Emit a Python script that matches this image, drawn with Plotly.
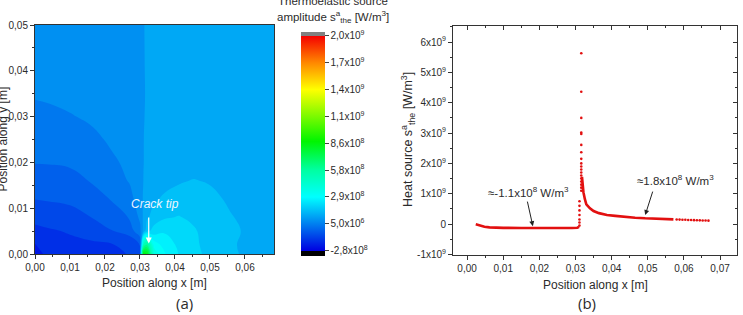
import numpy as np
import plotly.graph_objects as go

# ---------------- (a) thermoelastic source field (values in 1e8 W/m^3) ----------------
GRID_X = [0, 0.004, 0.01, 0.016, 0.022, 0.027, 0.030, 0.031, 0.032, 0.034,
          0.037, 0.041, 0.045, 0.05, 0.056, 0.062, 0.069]
GRID_Y = [0, 0.002, 0.005, 0.008, 0.012, 0.016, 0.02, 0.025, 0.03, 0.035, 0.04, 0.05]
FIELD_1E8 = [
    [-2.30, -1.80, -1.60, -1.58, -1.55, -1.45, -1.30, 9.00, 8.50, 3.80, 2.90, 2.30, 1.95, 1.62, 1.28, 1.15, 1.08],
    [-2.05, -1.75, -1.58, -1.55, -1.50, -1.35, -0.90, 5.00, 6.00, 3.20, 2.60, 2.22, 1.90, 1.58, 1.27, 1.13, 1.06],
    [-1.60, -1.52, -1.43, -1.29, -0.95, -0.69, 0.00, 0.90, 1.60, 2.00, 2.25, 2.10, 1.85, 1.55, 1.30, 1.15, 1.07],
    [-1.33, -1.27, -1.14, -0.93, -0.68, -0.35, 0.25, 0.80, 1.15, 1.45, 1.70, 1.80, 1.68, 1.45, 1.25, 1.12, 1.05],
    [-0.92, -0.88, -0.82, -0.64, -0.35, -0.05, 0.45, 0.75, 0.95, 1.15, 1.32, 1.45, 1.45, 1.32, 1.17, 1.07, 1.02],
    [-0.64, -0.61, -0.55, -0.36, -0.13, 0.19, 0.40, 0.70, 0.85, 0.95, 1.05, 1.17, 1.25, 1.20, 1.08, 1.03, 1.00],
    [-0.37, -0.36, -0.32, -0.19, 0.085, 0.24, 0.45, 0.68, 0.80, 0.88, 0.93, 0.98, 1.02, 1.03, 1.02, 1.00, 0.99],
    [-0.18, -0.16, -0.10, 0.04, 0.22, 0.36, 0.50, 0.68, 0.78, 0.84, 0.90, 0.96, 0.99, 1.00, 1.00, 0.99, 0.98],
    [0.01, 0.03, 0.12, 0.22, 0.33, 0.44, 0.52, 0.66, 0.76, 0.84, 0.91, 0.95, 0.98, 0.99, 0.99, 0.98, 0.97],
    [0.20, 0.24, 0.30, 0.38, 0.44, 0.50, 0.56, 0.64, 0.75, 0.86, 0.92, 0.95, 0.97, 0.98, 0.98, 0.97, 0.96],
    [0.36, 0.38, 0.41, 0.44, 0.47, 0.51, 0.57, 0.65, 0.76, 0.87, 0.92, 0.94, 0.96, 0.97, 0.97, 0.96, 0.95],
    [0.40, 0.42, 0.44, 0.46, 0.48, 0.52, 0.58, 0.66, 0.78, 0.88, 0.92, 0.94, 0.95, 0.96, 0.96, 0.95, 0.94],
]
CBAR_TICKS = [-2.8e8, 5.0e6, 2.9e8, 5.75e8, 8.6e8, 1.145e9, 1.43e9, 1.715e9, 2.0e9]
CBAR_LABELS = ["-2,8x10<sup>8</sup>", "5,0x10<sup>6</sup>", "2,9x10<sup>8</sup>",
               "5,8x10<sup>8</sup>", "8,6x10<sup>8</sup>", "1,1x10<sup>9</sup>",
               "1,4x10<sup>9</sup>", "1,7x10<sup>9</sup>", "2,0x10<sup>9</sup>"]

# ---------------- (b) heat source along crack line (values in 1e9 W/m^3) ----------------
PLATEAU_X = [0.0024, 0.0030, 0.0038, 0.0048, 0.0062, 0.0080, 0.0100, 0.0150, 0.0200,
             0.0250, 0.0290, 0.0305, 0.0310]
PLATEAU_Y = [-0.01, -0.03, -0.06, -0.09, -0.11, -0.12, -0.125, -0.13, -0.135,
             -0.135, -0.13, -0.12, -0.09]
JUMP_X = [0.0311, 0.0311, 0.0311, 0.0311, 0.0311, 0.0311, 0.0311]
JUMP_Y = [-0.05, 0.05, 0.15, 0.30, 0.45, 0.60, 0.75]
SPIKE_X = [0.0316] * 18
SPIKE_Y = [1.10, 1.20, 1.30, 1.40, 1.50, 1.60, 1.70, 1.80, 1.90, 2.00, 2.15, 2.37,
           2.61, 2.97, 3.02, 3.50, 4.36, 5.63]
DECAY_X = [0.0318, 0.0322, 0.0326, 0.0330, 0.0340, 0.0350, 0.0365, 0.0387, 0.0410,
           0.0433, 0.0465, 0.0493, 0.0530, 0.0571]
DECAY_Y = [1.56, 1.05, 0.82, 0.65, 0.52, 0.43, 0.36, 0.30, 0.27, 0.24, 0.21, 0.19,
           0.17, 0.155]
TAIL_X = [0.0580, 0.0588, 0.0596, 0.0604, 0.0612, 0.0620, 0.0628, 0.0636, 0.0644,
          0.0652, 0.0660, 0.0668]
TAIL_Y = [0.150, 0.147, 0.143, 0.140, 0.136, 0.133, 0.129, 0.126, 0.122, 0.119,
          0.115, 0.112]
B_YTICKS = [-1e9, 0, 1e9, 2e9, 3e9, 4e9, 5e9, 6e9]
B_YLABELS = ["-1x10<sup>9</sup>", "0", "1x10<sup>9</sup>", "2x10<sup>9</sup>",
             "3x10<sup>9</sup>", "4x10<sup>9</sup>", "5x10<sup>9</sup>", "6x10<sup>9</sup>"]

W, H = 743, 315
FONT = "Liberation Sans, Arial, sans-serif"
TXT = "#2b2b2b"
RED = "rgb(226,16,16)"

# colour mapping (Origin-like rainbow, black below / grey above)
CS = 5.4e7
START = 6.9e7 - 7 * CS
CMIN = START - CS / 2
CMAX = CMIN + 44 * CS
END = START + 43.01 * CS


def p(v):
    return (v - CMIN) / (CMAX - CMIN)


colorscale = [
    [0.0, "rgb(0,0,0)"], [p(-2.8e8), "rgb(0,0,0)"],
    [p(-2.8e8), "rgb(0,0,225)"],
    [p(2.9e8), "rgb(0,255,255)"],
    [p(5.8e8), "rgb(0,255,160)"],
    [p(8.8e8), "rgb(0,245,0)"],
    [p(1.43e9), "rgb(255,255,0)"],
    [p(1.715e9), "rgb(255,135,0)"],
    [p(2.0e9), "rgb(245,0,0)"],
    [p(2.0e9), "rgb(128,128,128)"], [1.0, "rgb(128,128,128)"],
]

fig = go.Figure()

z = np.array(FIELD_1E8) * 1e8
fig.add_trace(go.Contour(
    x=GRID_X, y=GRID_Y, z=z, colorscale=colorscale, showscale=False,
    autocontour=False,
    contours=dict(start=START, end=END, size=CS, coloring="fill", showlines=False),
    line=dict(width=0, smoothing=1.3), hoverinfo="skip",
    xaxis="x", yaxis="y",
))
# colour bar carrier (drawn outside the visible range)
fig.add_trace(go.Heatmap(
    x=[1, 2], y=[1, 2], z=[[CMIN, CMAX], [CMIN, CMAX]], zmin=CMIN, zmax=CMAX,
    colorscale=colorscale, hoverinfo="skip", xaxis="x", yaxis="y",
    colorbar=dict(
        x=301 / W, xanchor="left", y=1 - 32 / H, yanchor="top",
        len=224, lenmode="pixels", thickness=24, xpad=0, ypad=0,
        outlinewidth=0, tickmode="array", tickvals=CBAR_TICKS, ticktext=CBAR_LABELS,
        ticks="outside", ticklen=4, tickcolor="#444",
        tickfont=dict(family=FONT, size=10, color=TXT),
    ),
))

# (b) traces
fig.add_trace(go.Scatter(x=PLATEAU_X, y=np.array(PLATEAU_Y) * 1e9, mode="lines",
                         line=dict(color=RED, width=2.6), xaxis="x2", yaxis="y2",
                         showlegend=False, hoverinfo="skip"))
fig.add_trace(go.Scatter(x=DECAY_X, y=np.array(DECAY_Y) * 1e9, mode="lines",
                         line=dict(color=RED, width=2.6), xaxis="x2", yaxis="y2",
                         showlegend=False, hoverinfo="skip"))
for xs_, ys_ in ((JUMP_X, JUMP_Y), (SPIKE_X, SPIKE_Y), (TAIL_X, TAIL_Y)):
    fig.add_trace(go.Scatter(x=xs_, y=np.array(ys_) * 1e9, mode="markers",
                             marker=dict(color=RED, size=2.6, line=dict(width=0)),
                             xaxis="x2", yaxis="y2", showlegend=False, hoverinfo="skip"))
fig.add_trace(go.Scatter(x=[None], y=[None], xaxis="x3", yaxis="y3",
                         showlegend=False, hoverinfo="skip"))

axis_common = dict(showgrid=False, zeroline=False, showline=True, linecolor="#333",
                   linewidth=1, ticks="outside", ticklen=4, tickcolor="#333",
                   tickangle=0, automargin=False,
                   tickfont=dict(family=FONT, size=10, color=TXT))

XR_B = [-0.0039, 0.0747]
YR_B = [-1.02e9, 6.53e9]

fig.update_layout(
    width=W, height=H, margin=dict(l=0, r=0, t=0, b=0, autoexpand=False),
    paper_bgcolor="white", plot_bgcolor="white", separators=",.",
    showlegend=False,
    xaxis=dict(axis_common, domain=[35 / W, 274 / W], range=[0, 0.0683], anchor="y",
               tick0=0, dtick=0.01, tickformat=".2f", mirror=True,
               minor=dict(dtick=0.005, tick0=0, ticks="outside", ticklen=2, tickcolor="#333")),
    yaxis=dict(axis_common, domain=[1 - 254 / H, 1 - 25 / H], range=[0, 0.05], anchor="x",
               tick0=0, dtick=0.01, tickformat=".2f", mirror=True,
               minor=dict(dtick=0.005, tick0=0, ticks="outside", ticklen=2, tickcolor="#333")),
    xaxis2=dict(axis_common, domain=[453 / W, 737 / W], range=XR_B, anchor="y2",
                tick0=0, dtick=0.01, tickformat=".2f", mirror=True,
                minor=dict(dtick=0.005, tick0=0, ticks="outside", ticklen=2, tickcolor="#333")),
    yaxis2=dict(axis_common, domain=[1 - 255 / H, 1 - 26 / H], range=YR_B, anchor="x2",
                tickmode="array", tickvals=B_YTICKS, ticktext=B_YLABELS, mirror=True,
                minor=dict(dtick=5e8, tick0=0, ticks="outside", ticklen=2, tickcolor="#333")),
    xaxis3=dict(overlaying="x2", side="top", range=XR_B, anchor="y3", showgrid=False,
                zeroline=False, showline=False, ticks="inside", ticklen=4, tickcolor="#333",
                tick0=0, dtick=0.01, showticklabels=False, automargin=False,
                minor=dict(dtick=0.005, tick0=0, ticks="inside", ticklen=2, tickcolor="#333")),
    yaxis3=dict(overlaying="y2", side="right", range=YR_B, anchor="x3", showgrid=False,
                zeroline=False, showline=False, ticks="inside", ticklen=4, tickcolor="#333",
                tickmode="array", tickvals=B_YTICKS, showticklabels=False, automargin=False,
                minor=dict(dtick=5e8, tick0=0, ticks="inside", ticklen=2, tickcolor="#333")),
)

ann = []


def paper_text(text, px, py, size=11, angle=0, family=FONT, color=TXT):
    ann.append(dict(text=text, x=px / W, y=1 - py / H, xref="paper", yref="paper",
                    xanchor="center", yanchor="middle", showarrow=False, textangle=angle,
                    font=dict(family=family, size=size, color=color)))


paper_text("Position along x [m]", 154.5, 283, size=12)
paper_text("Position along y [m]", 2, 139.5, size=12, angle=-90)
paper_text("Thermoelastic source", 333, 1, size=11.5)
paper_text("amplitude s<sup>a</sup><sub>the</sub> [W/m<sup>3</sup>]", 333, 17, size=11.5)
paper_text("(a)", 184, 303, size=15, family="Open Sans, sans-serif")
paper_text("Position along x [m]", 595, 285, size=12)
paper_text("Heat source s<sup>a</sup><sub>the</sub> [W/m<sup>3</sup>]", 408, 140, size=12.5,
           angle=-90)
paper_text("(b)", 587, 303, size=15, family="Open Sans, sans-serif")

# (a) crack tip label
ann.append(dict(text="<i>Crack tip</i>", x=0.0342, y=0.0109, xref="x", yref="y",
                showarrow=False, font=dict(family=FONT, size=12, color="#eef6ff")))
ann.append(dict(text="", x=0.0325, y=0.0023, ax=0.0325, ay=0.0083, xref="x", yref="y",
                axref="x", ayref="y", showarrow=True, arrowhead=2, arrowsize=1,
                arrowwidth=1.2, arrowcolor="white"))

# (b) annotations
ann.append(dict(text="≈-1.1x10<sup>8</sup> W/m<sup>3</sup>", x=0.0170, y=1.07e9,
                xref="x2", yref="y2", showarrow=False,
                font=dict(family=FONT, size=11.5, color=TXT)))
ann.append(dict(text="", x=0.0182, y=-0.07e9, ax=0.0166, ay=0.79e9, xref="x2", yref="y2",
                axref="x2", ayref="y2", showarrow=True, arrowhead=2, arrowsize=1,
                arrowwidth=1, arrowcolor="#222"))
ann.append(dict(text="≈1.8x10<sup>8</sup> W/m<sup>3</sup>", x=0.0578, y=1.45e9,
                xref="x2", yref="y2", showarrow=False,
                font=dict(family=FONT, size=11.5, color=TXT)))
ann.append(dict(text="", x=0.0493, y=0.30e9, ax=0.0515, ay=1.12e9, xref="x2", yref="y2",
                axref="x2", ayref="y2", showarrow=True, arrowhead=2, arrowsize=1,
                arrowwidth=1, arrowcolor="#222"))

fig.update_layout(annotations=ann)
fig.write_html("out.html")
